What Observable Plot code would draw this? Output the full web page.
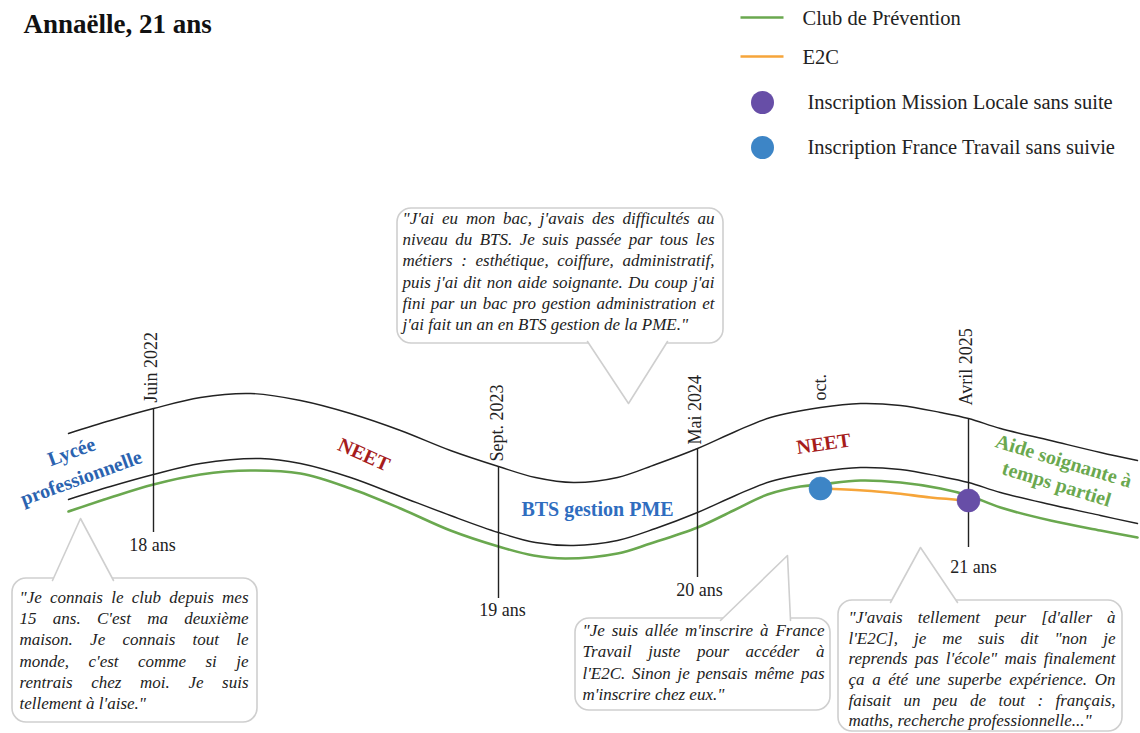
<!DOCTYPE html>
<html><head><meta charset="utf-8">
<script src="https://cdn.jsdelivr.net/npm/d3@7"></script>
<script src="https://cdn.jsdelivr.net/npm/@observablehq/plot@0.6"></script>
<style>body{margin:0;background:#fff;} svg{display:block;}</style>
</head><body><div id="chart"></div>
<script>
// ---------- DATA ----------
const title = "Annaëlle, 21 ans";

// schematic path of the trajectory band (x, y in drawing units)
const topEdge = [[68,433],[110,420],[153,408],[200,397],[250,393],[300,400],[350,413],[400,430],[450,450],[498,466],[535,477],[573,482],[617,477],[655,464],[697,448],[735,431],[770,417],[820,407],[860,403],[900,405],[940,412],[968,418],[1000,428],[1050,440],[1100,452],[1137,460]];
const midEdge = [[68,499],[110,486],[153,474],[200,463],[260,458],[300,463],[350,477],[400,496],[450,515],[498,532],[535,542],[573,545],[617,540],[655,528],[697,512],[735,495],[770,481],[820,471],[860,467],[900,469],[940,476],[968,482],[1000,492],[1050,504],[1100,515],[1137,523]];
const clubPath = [[68,511],[110,497],[153,484],[200,474],[250,470],[300,473],[350,488],[400,508],[450,530],[498,546],[533,555],[565,558],[617,553],[650,543],[697,527],[733,510],[767,494],[800,486],[820,484],[860,480],[900,482],[940,488],[968,495],[1000,507],[1050,520],[1100,530],[1137,537]];
const e2cPath = [[820,488],[863,490],[897,493],[930,497],[968,500]];

// milestones
const dateLabels = ["Juin 2022","Sept. 2023","Mai 2024","oct.","Avril 2025"];
const dateX = [151, 497, 695, 820, 966];
const dateBase = [402, 461, 444, 400, 405];
const ruleX = [153, 498, 697, 968];
const ruleTop = [408, 466, 448, 418];
const ruleBottom = [532, 598, 577, 547];
const ageLabels = ["18 ans","19 ans","20 ans","21 ans"];
const ageX = [152, 502, 699, 973];
const ageY = [545, 610, 590, 567];

// events
const eventNames = ["Inscription France Travail sans suivie","Inscription Mission Locale sans suite"];
const eventX = [820, 968];
const eventY = [488, 500];
const eventColors = ["#3d85c6","#674ea7"];

// phases
const phaseLabels = ["Lycée\nprofessionnelle","NEET","BTS gestion PME","NEET","Aide soignante à\ntemps partiel"];
const phaseX = [75, 364, 597, 823, 1060];
const phaseY = [462, 453, 508, 442, 471];
const phaseRotate = [-20, 24, 0, -8, 17];
const phaseColors = ["#2b63b0","#a61c1c","#2f6dbf","#a61c1c","#6aa84f"];

// legend
const legendLines = ["Club de Prévention","E2C"];
const legendLineColors = ["#6aa84f","#f6a53a"];
const legendDots = ["Inscription Mission Locale sans suite","Inscription France Travail sans suivie"];
const legendDotColors = ["#674ea7","#3d85c6"];

// quotes
const quote1 = [
  "\"J'ai eu mon bac, j'avais des difficultés au",
  "niveau du BTS. Je suis passée par tous les",
  "métiers : esthétique, coiffure, administratif,",
  "puis j'ai dit non aide soignante. Du coup j'ai",
  "fini par un bac pro gestion administration et",
  "j'ai fait un an en BTS gestion de la PME.\""
];
const quote2 = [
  "\"Je connais le club depuis mes",
  "15 ans. C'est ma deuxième",
  "maison. Je connais tout le",
  "monde, c'est comme si je",
  "rentrais chez moi. Je suis",
  "tellement à l'aise.\""
];
const quote3 = [
  "\"Je suis allée m'inscrire à France",
  "Travail juste pour accéder à",
  "l'E2C. Sinon je pensais même pas",
  "m'inscrire chez eux.\""
];
const quote4 = [
  "\"J'avais tellement peur [d'aller à",
  "l'E2C], je me suis dit \"non je",
  "reprends pas l'école\" mais finalement",
  "ça a été une superbe expérience. On",
  "faisait un peu de tout : français,",
  "maths, recherche professionnelle...\""
];

// ---------- LAYOUT ----------
const W = 1140, H = 733;
const quoteSize = 17;
const serif = "'Liberation Serif', 'Times New Roman', serif";
const bubbles = [
  {lines: quote1, x1: 397, x2: 723, y1: 208, y2: 343, tip: [628, 403], base: [587, 667], side: "bottom", left: 402, right: 714, first: 218, step: 21.2},
  {lines: quote2, x1: 12, x2: 257, y1: 578, y2: 722, tip: [80, 518], base: [52, 113], side: "top", left: 19, right: 248, first: 597, step: 21.2},
  {lines: quote3, x1: 575, x2: 830, y1: 618, y2: 710, tip: [787, 555], base: [720, 790], side: "top", left: 582, right: 824, first: 630, step: 21.5},
  {lines: quote4, x1: 838, x2: 1122, y1: 600, y2: 731, tip: [920, 547], base: [890, 957], side: "top", left: 848, right: 1115, first: 617, step: 20.7}
];

// justified word layout (measured with the same font)
const ctx = document.createElement("canvas").getContext("2d");
ctx.font = `italic ${quoteSize}px ${serif}`;
const wordRows = [], lastRows = [];
bubbles.forEach(b => b.lines.forEach((t, i) => {
  const y = b.first + i * b.step;
  if (i === b.lines.length - 1) { lastRows.push({text: t, x: b.left, y}); return; }
  const words = t.split(" ");
  const widths = words.map(w => ctx.measureText(w).width);
  const gap = (b.right - b.left - d3.sum(widths)) / Math.max(1, words.length - 1);
  let x = b.left;
  words.forEach((w, k) => { wordRows.push({text: w, x, y}); x += widths[k] + gap; });
}));

const pointers = bubbles.map(b => {
  const by = b.side === "top" ? b.y1 + 2 : b.y2 - 2;
  return [[b.base[0], by], b.tip, [b.base[1], by]];
});

const X = d => d[0], Y = d => d[1];

const marks = [
  // band
  Plot.line(topEdge, {x: X, y: Y, curve: "catmull-rom", stroke: "#222", strokeWidth: 1.4}),
  Plot.line(midEdge, {x: X, y: Y, curve: "catmull-rom", stroke: "#222", strokeWidth: 1.4}),
  Plot.line(clubPath, {x: X, y: Y, curve: "catmull-rom", stroke: "#6aa84f", strokeWidth: 2.6}),
  Plot.line(e2cPath, {x: X, y: Y, curve: "catmull-rom", stroke: "#f6a53a", strokeWidth: 2.6}),
  // milestones
  Plot.ruleX(ruleX.map((x, i) => ({x, y1: ruleTop[i], y2: ruleBottom[i]})), {x: "x", y1: "y1", y2: "y2", stroke: "#222", strokeWidth: 1.4}),
  Plot.text(dateLabels.map((t, i) => ({t, x: dateX[i], y: dateBase[i]})), {x: "x", y: "y", text: "t", rotate: -90, textAnchor: "start", lineAnchor: "middle", fontSize: 18, fill: "#222"}),
  Plot.text(ageLabels.map((t, i) => ({t, x: ageX[i], y: ageY[i]})), {x: "x", y: "y", text: "t", fontSize: 18, fill: "#222"}),
  // events
  ...eventNames.map((n, i) => Plot.dot([[eventX[i], eventY[i]]], {x: X, y: Y, r: 11.5, fill: eventColors[i], stroke: eventColors[i], strokeOpacity: 0.6, strokeWidth: 1})),
  // phases
  ...phaseLabels.map((t, i) => Plot.text([t], {x: () => phaseX[i], y: () => phaseY[i], text: d => d, rotate: phaseRotate[i], fill: phaseColors[i], fontWeight: "bold", fontSize: 20, lineHeight: i === 0 ? 1.4 : 1.2})),
  // bubbles
  Plot.rect(bubbles, {x1: "x1", x2: "x2", y1: "y1", y2: "y2", rx: 14, fill: "white", stroke: "#cfcfcf", strokeWidth: 1.6}),
  ...pointers.map(p => Plot.line(p, {x: X, y: Y, fill: "white", stroke: "#cfcfcf", strokeWidth: 1.6})),
  Plot.text(wordRows, {x: "x", y: "y", text: "text", textAnchor: "start", fontStyle: "italic", fontSize: quoteSize, fill: "#222"}),
  Plot.text(lastRows, {x: "x", y: "y", text: "text", textAnchor: "start", fontStyle: "italic", fontSize: quoteSize, fill: "#222"}),
  // legend
  ...legendLines.map((t, i) => Plot.link([t], {x1: () => 740, x2: () => 783, y1: () => 17 + i * 39, y2: () => 17 + i * 39, stroke: legendLineColors[i], strokeWidth: 2.6})),
  Plot.text(legendLines.map((t, i) => ({t, y: 18 + i * 39})), {x: () => 802, y: "y", text: "t", textAnchor: "start", fontSize: 20.5, fill: "#222"}),
  ...legendDots.map((t, i) => Plot.dot([t], {x: () => 762, y: () => 102 + i * 45, r: 11.5, fill: legendDotColors[i]})),
  Plot.text(legendDots.map((t, i) => ({t, y: 102 + i * 45})), {x: () => 807, y: "y", text: "t", textAnchor: "start", fontSize: 20.5, fill: "#222"}),
  // title
  Plot.text([title], {x: () => 23, y: () => 24, text: d => d, textAnchor: "start", fontWeight: "bold", fontSize: 27, fill: "#111"})
];

const svg = Plot.plot({
  width: W, height: H, margin: 0,
  x: {domain: [0, W], range: [0, W], axis: null},
  y: {domain: [0, H], range: [0, H], axis: null},
  style: {fontFamily: serif, background: "white", overflow: "visible"},
  marks
});
document.getElementById("chart").append(svg);
</script>
</body></html>
